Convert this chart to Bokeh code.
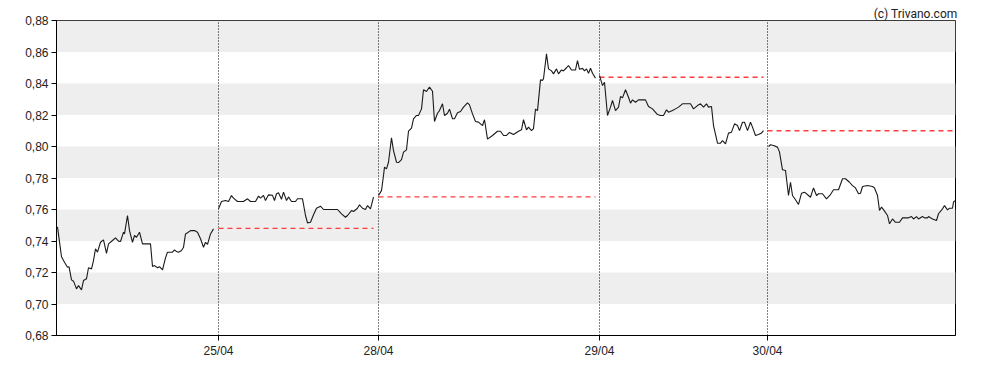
from bokeh.plotting import figure
from bokeh.models import FixedTicker, Range1d
from bokeh.embed import file_html
from bokeh.resources import INLINE

# ---- data (time index t, price v) per trading day ----
day_labels = ["25/04", "28/04", "29/04", "30/04"]
day_ticks = [161, 321, 542, 710]

t_2404 = [0, 4, 7, 10, 11.5, 14, 16, 19, 21, 24, 26, 29, 31, 34, 36, 38, 40, 43, 46, 49,
          51, 55, 58, 61, 63, 66, 67, 70, 72, 75, 77, 79, 82, 85, 93, 95, 97, 100, 102, 105,
          108, 110, 115, 117, 119, 121, 124, 126, 128, 130, 133, 137, 140, 143, 146, 148, 150, 153, 156]
v_2404 = [0.749, 0.730, 0.7265, 0.7233, 0.7237, 0.7153, 0.7145, 0.7096, 0.7117, 0.709,
          0.7149, 0.716, 0.723, 0.7223, 0.7276, 0.735, 0.7329, 0.7392, 0.7407, 0.7322,
          0.7382, 0.7403, 0.742, 0.7399, 0.7397, 0.7456, 0.7445, 0.7562, 0.7466, 0.7392,
          0.7435, 0.7424, 0.7456, 0.7382, 0.7382, 0.7238, 0.7244, 0.723, 0.7237, 0.7217,
          0.7293, 0.7329, 0.7329, 0.7344, 0.7333, 0.7329, 0.734, 0.736, 0.7445, 0.7452,
          0.7466, 0.7466, 0.7456, 0.7414, 0.736, 0.7392, 0.7378, 0.7445, 0.7477]

t_2504 = [161, 164, 168, 171, 174, 176, 180, 186, 190, 193, 198, 201, 203, 206, 208, 211, 215, 217, 219, 221,
          224, 226, 229, 231, 234, 238, 240, 245, 248, 250, 253, 256, 259, 263, 266, 280, 284, 288, 290, 294,
          296, 300, 302, 305, 308, 310, 313, 316]
v_2504 = [0.7604, 0.7651, 0.7657, 0.7651, 0.7689, 0.7672, 0.7651, 0.7651, 0.7668, 0.7651,
          0.7651, 0.7685, 0.7672, 0.769, 0.7657, 0.7693, 0.769, 0.7657, 0.77, 0.7706,
          0.7665, 0.771, 0.7657, 0.768, 0.7651, 0.7651, 0.7668, 0.7668, 0.7562, 0.7515,
          0.7519, 0.7567, 0.7608, 0.7621, 0.76, 0.76, 0.7572, 0.7551, 0.7562, 0.7593,
          0.7587, 0.7608, 0.763, 0.7608, 0.76, 0.7625, 0.7604, 0.7678]

t_2804 = [321, 324, 326, 327, 329, 331, 334, 336, 339, 341, 344, 346, 349, 351, 354, 356, 359, 361, 364, 366,
          369, 372, 375, 377, 380, 382, 385, 387, 390, 392, 395, 397, 400, 403, 406, 410, 412, 415, 418, 421,
          425, 427, 430, 435, 440, 443, 446, 449, 452, 456, 461, 464, 466, 469, 471, 474, 476, 478, 480, 483,
          485, 486, 489, 491, 494, 496, 499, 501, 504, 506, 509, 511, 514, 518, 520, 522, 525, 527, 529, 531,
          533, 535, 538]
v_2804 = [0.7689, 0.772, 0.7816, 0.7869, 0.7858, 0.79, 0.8055, 0.7974, 0.79, 0.7898,
          0.7917, 0.7964, 0.7979, 0.8097, 0.8116, 0.8176, 0.8197, 0.8197, 0.8239, 0.836,
          0.8349, 0.8377, 0.8351, 0.8159, 0.8211, 0.8228, 0.8271, 0.8197, 0.8211, 0.8237,
          0.8176, 0.8176, 0.8214, 0.8222, 0.825, 0.8277, 0.8264, 0.8207, 0.8159, 0.8155,
          0.8133, 0.817, 0.8047, 0.807, 0.8097, 0.8097, 0.807, 0.807, 0.8089, 0.8076,
          0.8097, 0.8106, 0.817, 0.8106, 0.8123, 0.8101, 0.8114, 0.8237, 0.8228, 0.8423,
          0.842, 0.843, 0.8588, 0.8493, 0.848, 0.8461, 0.8493, 0.8461, 0.8486, 0.848,
          0.85, 0.8514, 0.8486, 0.8486, 0.8546, 0.849, 0.8496, 0.848, 0.8493, 0.8465,
          0.8497, 0.8465, 0.8434]

t_2904 = [542, 545, 547, 550, 553, 555, 558, 561, 563, 565, 568, 571, 573, 575, 578, 581, 588, 591, 595, 600,
          603, 606, 609, 611, 615, 618, 621, 625, 633, 636, 640, 643, 646, 649, 651, 654, 656, 660, 663, 665,
          668, 671, 674, 677, 680, 682, 685, 687, 690, 693, 695, 698, 701, 704, 706]
v_2904 = [0.8451, 0.8387, 0.8408, 0.8197, 0.825, 0.8292, 0.8228, 0.825, 0.8317, 0.8309,
          0.836, 0.8313, 0.8275, 0.8296, 0.8281, 0.8296, 0.8296, 0.8254, 0.8239, 0.8203,
          0.8197, 0.8197, 0.8233, 0.8218, 0.8228, 0.8239, 0.825, 0.8271, 0.8271, 0.8239,
          0.826, 0.8271, 0.825, 0.8271, 0.825, 0.8254, 0.8133, 0.8021, 0.8021, 0.8038,
          0.8017, 0.8085, 0.8091, 0.8144, 0.8133, 0.8101, 0.8154, 0.8154, 0.8101, 0.8154,
          0.8123, 0.807, 0.8076, 0.8085, 0.8101]

t_3004 = [711, 713, 716, 720, 722, 725, 728, 731, 733, 735, 738, 741, 744, 747, 751, 753, 756, 759, 761, 765,
          769, 773, 776, 781, 785, 788, 792, 795, 798, 801, 803, 805, 810, 815, 817, 820, 822, 824, 826, 830,
          832, 835, 838, 842, 845, 851, 854, 856, 859, 861, 865, 867, 870, 871, 875, 879, 881, 885, 887, 890,
          892, 895, 896, 897.5]
v_3004 = [0.80, 0.8011, 0.8006, 0.7996, 0.7964, 0.7852, 0.7848, 0.7689, 0.7773, 0.7689,
          0.7662, 0.7632, 0.7703, 0.771, 0.7689, 0.7678, 0.7737, 0.7689, 0.77, 0.77,
          0.7668, 0.7695, 0.7725, 0.7725, 0.7795, 0.7795, 0.7773, 0.7752, 0.7737, 0.77,
          0.7703, 0.7746, 0.7752, 0.7746, 0.7737, 0.7689, 0.7594, 0.7615, 0.7599, 0.7562,
          0.7509, 0.754, 0.7519, 0.7519, 0.7547, 0.7547, 0.7555, 0.754, 0.7555, 0.754,
          0.7555, 0.7547, 0.7547, 0.7555, 0.754, 0.753, 0.7573, 0.7604, 0.7625, 0.7598,
          0.7608, 0.7608, 0.7647, 0.7657]

# previous close for each day (dashed red reference)
prev_close = [0.748, 0.768, 0.844, 0.810]

y_ticks = [0.68, 0.70, 0.72, 0.74, 0.76, 0.78, 0.80, 0.82, 0.84, 0.86, 0.88]
y_labels = ["0,68", "0,70", "0,72", "0,74", "0,76", "0,78", "0,80", "0,82", "0,84", "0,86", "0,88"]

days_t = [t_2404, t_2504, t_2804, t_2904, t_3004]
days_v = [v_2404, v_2504, v_2804, v_2904, v_3004]

X_START, X_END = -1, 898

p = figure(width=980, height=362, output_backend="svg", toolbar_location=None,
           x_range=Range1d(X_START, X_END), y_range=Range1d(y_ticks[0], y_ticks[-1]),
           min_border_left=56, min_border_right=25, min_border_top=20, min_border_bottom=27,
           background_fill_color="white", border_fill_color="white",
           title="(c) Trivano.com")

p.title.align = "right"
p.title.text_font = "Roboto"
p.title.text_font_size = "12px"
p.title.text_font_style = "normal"
p.title.text_color = "#222222"
p.title.standoff = 0
p.title.offset = -2
p.title.vertical_align = "bottom"

p.outline_line_color = "black"
p.outline_line_width = 1
p.outline_line_alpha = 1

# horizontal bands
p.ygrid.ticker = FixedTicker(ticks=y_ticks)
p.ygrid.grid_line_color = None
p.ygrid.band_fill_color = "#eeeeee"
p.ygrid.band_fill_alpha = 1
p.ygrid.level = "image"

# vertical dotted day separators
p.xgrid.ticker = FixedTicker(ticks=day_ticks)
p.xgrid.grid_line_color = "black"
p.xgrid.grid_line_dash = "1 2"
p.xgrid.grid_line_width = 1
p.xgrid.level = "underlay"

# axes
for ax in (p.xaxis, p.yaxis):
    ax.axis_line_color = "black"
    ax.major_tick_line_color = "black"
    ax.major_tick_out = 5
    ax.major_tick_in = 0
    ax.minor_tick_line_color = None
    ax.major_label_text_font = "Liberation Sans"
    ax.major_label_text_font_size = "12px"
    ax.major_label_text_color = "#222222"

p.yaxis.ticker = FixedTicker(ticks=y_ticks)
p.yaxis.major_label_overrides = {t: l for t, l in zip(y_ticks, y_labels)}
p.yaxis.major_label_standoff = 3
p.xaxis.ticker = FixedTicker(ticks=day_ticks)
p.xaxis.major_label_overrides = {t: l for t, l in zip(day_ticks, day_labels)}
p.xaxis.major_label_standoff = 3

# previous-close dashed lines
seg_x0 = day_ticks
seg_x1 = [d[-1] for d in days_t[1:]]
p.segment(x0=seg_x0, y0=prev_close, x1=seg_x1, y1=prev_close,
          line_color="#ff3b3b", line_width=1.4, line_dash="5 4")

# price lines
for tt, vv in zip(days_t, days_v):
    p.line(tt, vv, line_color="#1a1a1a", line_width=1.1)

open("out.html", "w").write(file_html(p, INLINE))
